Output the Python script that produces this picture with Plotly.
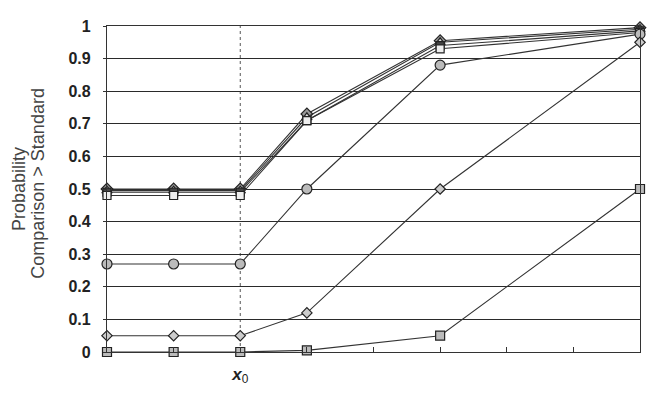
import plotly.graph_objects as go

x_vals = [0, 1, 2, 3, 5, 8]
series = {
    "A": [0.50, 0.50, 0.50, 0.73, 0.955, 0.995],
    "B": [0.495, 0.495, 0.495, 0.72, 0.95, 0.99],
    "C": [0.49, 0.49, 0.49, 0.71, 0.94, 0.985],
    "D": [0.48, 0.48, 0.48, 0.71, 0.93, 0.98],
    "E": [0.27, 0.27, 0.27, 0.50, 0.88, 0.975],
    "F": [0.05, 0.05, 0.05, 0.12, 0.50, 0.95],
    "G": [0.0, 0.0, 0.0, 0.005, 0.05, 0.50],
}
symbols = {"A": "diamond", "B": "triangle-up", "C": "square", "D": "square",
           "E": "circle", "F": "diamond", "G": "square"}
fills = {"A": "#999", "B": "#ddd", "C": "#444", "D": "#eee",
         "E": "#bbb", "F": "#ccc", "G": "#bbb"}
sizes = {"A": 9, "B": 9, "C": 8, "D": 8, "E": 10, "F": 8, "G": 9}

y_ticks = [0, 0.1, 0.2, 0.3, 0.4, 0.5, 0.6, 0.7, 0.8, 0.9, 1]
y_tick_labels = ["<b>0</b>", "<b>0.1</b>", "<b>0.2</b>", "<b>0.3</b>", "<b>0.4</b>", "<b>0.5</b>",
                 "<b>0.6</b>", "<b>0.7</b>", "<b>0.8</b>", "<b>0.9</b>", "<b>1</b>"]
x_label_tick = [2]
x_label_text = ["<b><i>x</i></b><sub>0</sub>"]
x_minor_ticks = [1, 2, 3, 4, 5, 6, 7]
title_lines = ["Probability", "Comparison > Standard"]

fig = go.Figure()
for k, ys in series.items():
    fig.add_trace(go.Scatter(
        x=x_vals, y=ys, mode="lines+markers",
        line=dict(color="#333", width=1.1),
        marker=dict(symbol=symbols[k], size=sizes[k], color=fills[k],
                    line=dict(color="#222", width=1.2)),
        cliponaxis=False, showlegend=False))

fig.add_shape(type="line", x0=2, x1=2, y0=0, y1=1, xref="x", yref="y",
              line=dict(color="#555", width=1, dash="dot"), layer="below")

for xp, yp, txt in zip([-0.165, -0.129], [0.50, 0.517], title_lines):
    fig.add_annotation(text=txt, xref="paper", yref="paper",
                       x=xp, y=yp, xanchor="center", yanchor="middle",
                       textangle=-90, showarrow=False,
                       font=dict(family="Liberation Sans", size=18, color="#444"))

fig.update_layout(
    width=656, height=394, margin=dict(l=107, r=16, t=26, b=42, autoexpand=False),
    plot_bgcolor="white", paper_bgcolor="white",
    xaxis=dict(range=[0, 8], tickvals=x_label_tick, ticktext=x_label_text, automargin=False,
               showgrid=False, zeroline=False, showline=True, linecolor="#333", linewidth=1.3,
               mirror=True, ticks="", ticklabelstandoff=6,
               minor=dict(tickvals=x_minor_ticks, ticks="inside", ticklen=5, tickcolor="#333",
                          showgrid=False),
               tickfont=dict(family="Liberation Sans", size=17, color="#222")),
    yaxis=dict(range=[0, 1], tickvals=y_ticks, ticktext=y_tick_labels, automargin=False,
               showgrid=True, gridcolor="#2a2a2a", gridwidth=1.1, zeroline=False,
               showline=True, linecolor="#333", linewidth=1.3, mirror=True,
               ticks="outside", ticklen=3, tickcolor="#333", ticklabelstandoff=9,
               tickfont=dict(family="Liberation Sans", size=16, color="#222")),
)
fig.write_html("out.html")
